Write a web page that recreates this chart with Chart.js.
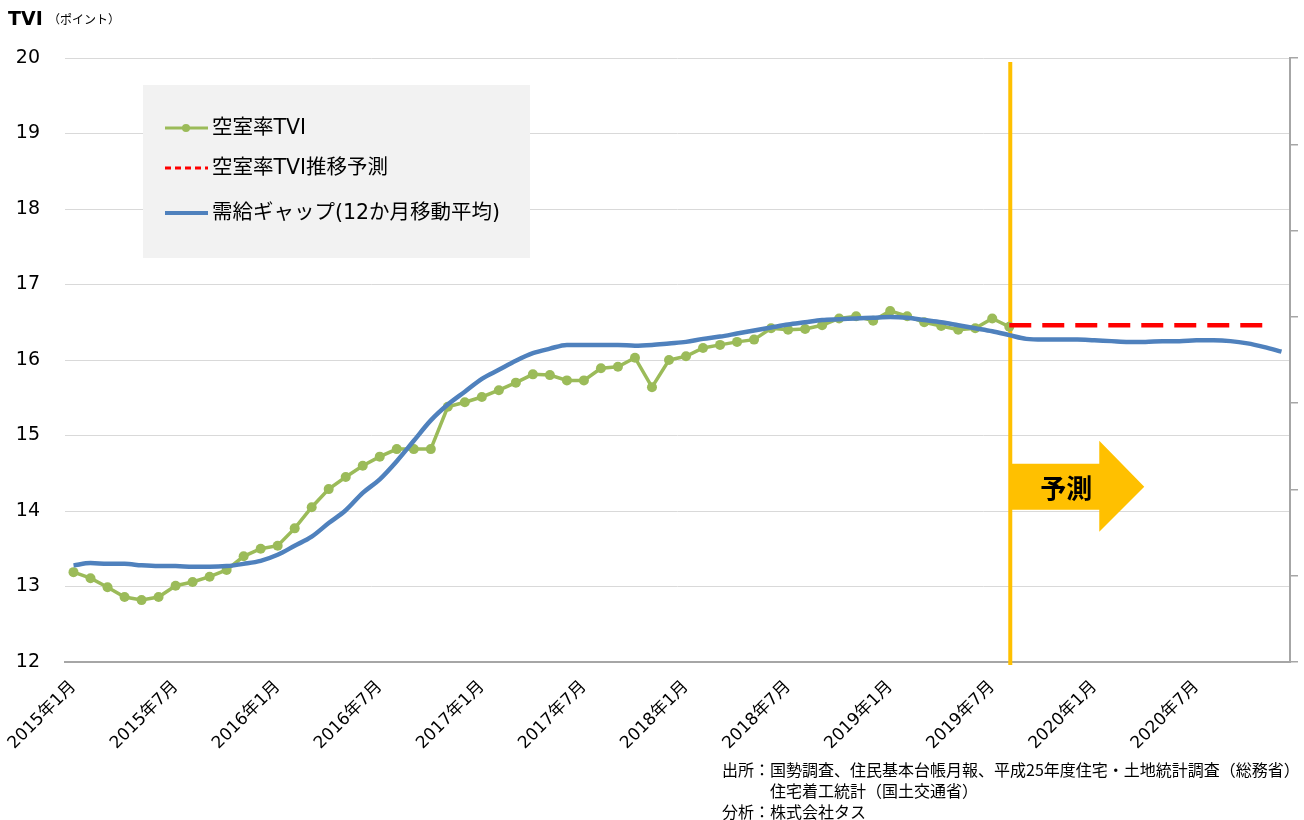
<!DOCTYPE html>
<html lang="ja">
<head>
<meta charset="utf-8">
<title>空室率TVI</title>
<script src="https://cdn.jsdelivr.net/npm/chart.js@4.4.1/dist/chart.umd.min.js"></script>
<style>
  html, body { margin: 0; padding: 0; background: #fff; }
  #wrap { position: relative; width: 1304px; height: 820px; }
  .note {
    position: absolute; left: 722px; top: 759px;
    font: 16px "Noto Sans CJK JP", sans-serif; color: #000; line-height: 21px;
    white-space: nowrap;
  }
  .note .indent { padding-left: 48px; }
</style>
</head>
<body>
<div id="wrap">
  <canvas id="tviChart" width="1304" height="820"></canvas>
  <div class="note">
    <div>出所：国勢調査、住民基本台帳月報、平成25年度住宅・土地統計調査（総務省）</div>
    <div class="indent">住宅着工統計（国土交通省）</div>
    <div>分析：株式会社タス</div>
  </div>
</div>
<script>
// months on the x axis
const months = [
  '2015年1月', '2015年2月', '2015年3月', '2015年4月', '2015年5月', '2015年6月',
  '2015年7月', '2015年8月', '2015年9月', '2015年10月', '2015年11月', '2015年12月',
  '2016年1月', '2016年2月', '2016年3月', '2016年4月', '2016年5月', '2016年6月',
  '2016年7月', '2016年8月', '2016年9月', '2016年10月', '2016年11月', '2016年12月',
  '2017年1月', '2017年2月', '2017年3月', '2017年4月', '2017年5月', '2017年6月',
  '2017年7月', '2017年8月', '2017年9月', '2017年10月', '2017年11月', '2017年12月',
  '2018年1月', '2018年2月', '2018年3月', '2018年4月', '2018年5月', '2018年6月',
  '2018年7月', '2018年8月', '2018年9月', '2018年10月', '2018年11月', '2018年12月',
  '2019年1月', '2019年2月', '2019年3月', '2019年4月', '2019年5月', '2019年6月',
  '2019年7月', '2019年8月', '2019年9月', '2019年10月', '2019年11月', '2019年12月',
  '2020年1月', '2020年2月', '2020年3月', '2020年4月', '2020年5月', '2020年6月',
  '2020年7月', '2020年8月', '2020年9月', '2020年10月', '2020年11月', '2020年12月'
]

// 空室率TVI, 2015年1月 - 2019年8月
const vacancyTVI = [
  13.19, 13.11, 12.99, 12.86, 12.82, 12.86, 13.01, 13.06, 13.13, 13.22, 13.40, 13.50,
  13.54, 13.77, 14.05, 14.29, 14.45, 14.60, 14.72, 14.82, 14.82, 14.82, 15.38, 15.44,
  15.51, 15.60, 15.70, 15.81, 15.80, 15.73, 15.73, 15.89, 15.91, 16.03, 15.64, 16.00,
  16.05, 16.16, 16.20, 16.24, 16.27, 16.42, 16.40, 16.41, 16.46, 16.55, 16.58, 16.52,
  16.65, 16.58, 16.50, 16.45, 16.40, 16.42, 16.55, 16.44
]

// 推移予測, 2019年8月 - 2020年11月
const forecastStart = '2019年8月'
const forecastTVI = [
  16.46, 16.46, 16.46, 16.46, 16.46, 16.46, 16.46, 16.46,
  16.46, 16.46, 16.46, 16.46, 16.46, 16.46, 16.46, 16.46
]

// 需給ギャップ (12か月移動平均)
const supplyGap = [
  13.28, 13.31, 13.30, 13.30, 13.28, 13.27, 13.27, 13.26, 13.26, 13.27, 13.30, 13.34,
  13.42, 13.54, 13.66, 13.84, 14.01, 14.24, 14.42, 14.66, 14.93, 15.20, 15.41, 15.58,
  15.75, 15.87, 15.99, 16.09, 16.15, 16.20, 16.20, 16.20, 16.20, 16.19, 16.20, 16.22,
  16.24, 16.28, 16.31, 16.35, 16.39, 16.43, 16.47, 16.50, 16.53, 16.54, 16.55, 16.56,
  16.57, 16.56, 16.53, 16.50, 16.46, 16.42, 16.38, 16.33, 16.28, 16.27, 16.27, 16.27,
  16.26, 16.25, 16.24, 16.24, 16.25, 16.25, 16.26, 16.26, 16.25, 16.22, 16.17, 16.11
]

const yMin = 12
const yMax = 20
const rightAxisSteps = 7
const arrowLevel = 14.32

const GREEN = '#9bbb59'
const RED = '#ff0000'
const BLUE = '#4f81bd'
const ORANGE = '#ffc000'
const FONT = '"DejaVu Sans", "Noto Sans CJK JP", sans-serif'
const JP_FONT = '"Noto Sans CJK JP", sans-serif'

Chart.defaults.font.family = FONT
Chart.defaults.color = '#000'

const startIdx = months.indexOf(forecastStart)
const forecastData = months.map((m, i) => {
  const k = i - startIdx
  return k >= 0 && k < forecastTVI.length ? forecastTVI[k] : null
})

// title, legend box, forecast line and arrow
const decorations = {
  id: 'decorations',
  beforeDatasetsDraw(chart) {
    const { ctx, chartArea, scales } = chart
    const x0 = scales.x.getPixelForValue(startIdx) + 1
    ctx.save()
    ctx.strokeStyle = ORANGE
    ctx.lineWidth = 4
    ctx.beginPath()
    ctx.moveTo(x0, chartArea.top + 4)
    ctx.lineTo(x0, chartArea.bottom + 3)
    ctx.stroke()
    ctx.restore()
  },
  afterDraw(chart) {
    const { ctx, chartArea, scales } = chart
    ctx.save()

    // axis title
    ctx.fillStyle = '#000'
    ctx.textBaseline = 'alphabetic'
    ctx.font = 'bold 19px ' + FONT
    ctx.fillText('TVI', 8, 25)
    ctx.font = '12px ' + JP_FONT
    ctx.fillText('（ポイント）', 48, 24)

    // legend
    const lx = chartArea.left + 78
    const ly = chartArea.top + 27
    ctx.fillStyle = '#f2f2f2'
    ctx.fillRect(lx, ly, 387, 173)
    const rows = [43, 83, 128]
    chart.data.datasets.forEach((ds, i) => {
      const y = ly + rows[i]
      ctx.strokeStyle = ds.borderColor
      ctx.lineWidth = i === 2 ? 4 : 3
      ctx.setLineDash(i === 1 ? [6, 4] : [])
      ctx.beginPath()
      ctx.moveTo(lx + 22, y)
      ctx.lineTo(lx + 65, y)
      ctx.stroke()
      ctx.setLineDash([])
      if (ds.pointRadius > 0) {
        ctx.fillStyle = ds.pointBackgroundColor
        ctx.beginPath()
        ctx.arc(lx + 43, y, 4, 0, Math.PI * 2)
        ctx.fill()
      }
      ctx.fillStyle = '#000'
      ctx.font = '20.5px ' + FONT
      ctx.textBaseline = 'middle'
      ctx.fillText(ds.label, lx + 69, y + 1)
    })

    // 予測 arrow
    const ax = scales.x.getPixelForValue(startIdx) + 1
    const ay = scales.y.getPixelForValue(arrowLevel)
    ctx.fillStyle = ORANGE
    ctx.beginPath()
    ctx.moveTo(ax, ay - 23)
    ctx.lineTo(ax + 89, ay - 23)
    ctx.lineTo(ax + 89, ay - 46)
    ctx.lineTo(ax + 134, ay)
    ctx.lineTo(ax + 89, ay + 45)
    ctx.lineTo(ax + 89, ay + 23)
    ctx.lineTo(ax, ay + 23)
    ctx.closePath()
    ctx.fill()
    ctx.fillStyle = '#000'
    ctx.font = 'bold 26px ' + JP_FONT
    ctx.textAlign = 'center'
    ctx.textBaseline = 'middle'
    ctx.fillText('予測', ax + 56, ay + 1)

    ctx.restore()
  }
}

new Chart(document.getElementById('tviChart').getContext('2d'), {
  type: 'line',
  data: {
    labels: months,
    datasets: [{
      label: '空室率TVI',
      data: vacancyTVI,
      borderColor: GREEN,
      backgroundColor: GREEN,
      pointBackgroundColor: GREEN,
      pointBorderWidth: 0,
      pointRadius: 5,
      borderWidth: 3.5,
      tension: 0,
      order: 2,
      yAxisID: 'y'
    }, {
      label: '空室率TVI推移予測',
      data: forecastData,
      borderColor: RED,
      backgroundColor: RED,
      borderDash: [22, 11],
      borderWidth: 4.5,
      pointRadius: 0,
      order: 1,
      yAxisID: 'y'
    }, {
      label: '需給ギャップ(12か月移動平均)',
      data: supplyGap,
      borderColor: BLUE,
      backgroundColor: BLUE,
      borderWidth: 4.5,
      pointRadius: 0,
      cubicInterpolationMode: 'monotone',
      order: 0,
      yAxisID: 'y'
    }]
  },
  options: {
    responsive: false,
    animation: false,
    layout: { padding: { top: 58, left: 0, right: 0, bottom: 0 } },
    plugins: {
      legend: { display: false },
      tooltip: { enabled: false }
    },
    scales: {
      x: {
        offset: true,
        grid: { display: false, drawTicks: false },
        border: { display: true, color: '#a6a6a6', width: 2 },
        ticks: {
          autoSkip: false,
          minRotation: 45,
          maxRotation: 45,
          padding: 15,
          font: { size: 17 },
          color: '#000',
          callback: function (value, index) {
            return index % 6 === 0 ? this.getLabelForValue(value) : ''
          }
        },
        // keep the rotated labels from pushing the plot inwards
        afterFit: s => {
          s.height = 158
          s.paddingLeft = 0
          s.paddingRight = 0
        }
      },
      y: {
        min: yMin,
        max: yMax,
        ticks: { stepSize: 1, padding: 25, font: { size: 19 }, color: '#000' },
        grid: { color: '#d9d9d9', lineWidth: 1, drawTicks: false },
        border: { display: false },
        afterFit: s => { s.width = 65 }
      },
      y2: {
        position: 'right',
        min: 0,
        max: rightAxisSteps,
        ticks: { stepSize: 1, display: false },
        grid: { drawOnChartArea: false, drawTicks: true, tickLength: 8, color: '#a6a6a6', lineWidth: 1.5 },
        border: { display: true, color: '#a6a6a6', width: 2 },
        afterFit: s => { s.width = 14 }
      }
    }
  },
  plugins: [decorations]
})
</script>
</body>
</html>
